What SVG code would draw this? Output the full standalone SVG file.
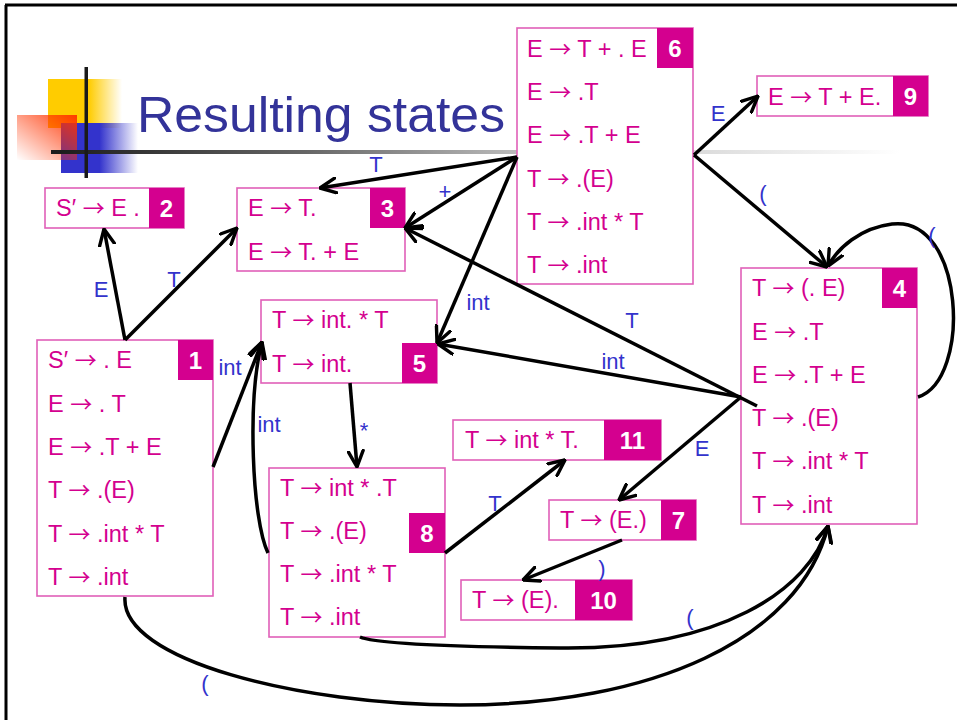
<svg xmlns="http://www.w3.org/2000/svg" width="957" height="720" viewBox="0 0 957 720">
<defs>
<linearGradient id="gY" x1="0" y1="0" x2="1" y2="0"><stop offset="0" stop-color="#FFCC00"/><stop offset="0.55" stop-color="#FFCC00"/><stop offset="1" stop-color="#FFCC00" stop-opacity="0"/></linearGradient>
<linearGradient id="gB" x1="0" y1="0" x2="1" y2="0"><stop offset="0" stop-color="#3333CC"/><stop offset="0.5" stop-color="#3333CC"/><stop offset="1" stop-color="#3333CC" stop-opacity="0"/></linearGradient>
<linearGradient id="gR" x1="1" y1="0" x2="0" y2="1"><stop offset="0" stop-color="#FF3300" stop-opacity="0.95"/><stop offset="1" stop-color="#FF3300" stop-opacity="0"/></linearGradient>
<linearGradient id="gL" gradientUnits="userSpaceOnUse" x1="51" y1="0" x2="900" y2="0"><stop offset="0" stop-color="#1a1a1a"/><stop offset="0.3" stop-color="#666"/><stop offset="0.55" stop-color="#bbb"/><stop offset="1" stop-color="#fff"/></linearGradient>
<marker id="ah" viewBox="0 0 18 18" refX="17" refY="9" markerWidth="18" markerHeight="18" markerUnits="userSpaceOnUse" orient="auto"><path d="M1,1.5 L17,9 L1,16.5" fill="none" stroke="#000" stroke-width="3.4" stroke-linecap="round" stroke-linejoin="round"/></marker>
</defs>
<style>
.box{fill:#fff;stroke:#e060b8;stroke-width:1.6}
.badge{fill:#d4008f}
.num{fill:#fff;font-family:"Liberation Sans",Arial,sans-serif;font-weight:bold;font-size:24px;text-anchor:middle}
.it{fill:#d4008f;font-family:"Liberation Sans",Arial,sans-serif;font-size:23.5px}
.ar{font-family:"Noto Sans CJK JP","Noto Sans CJK SC",sans-serif;font-size:22px}
.lbl{fill:#3333cc;font-family:"Liberation Sans",Arial,sans-serif;font-size:22px;text-anchor:middle}
.edge{fill:none;stroke:#000;stroke-width:3.5;marker-end:url(#ah)}
</style>
<rect width="957" height="720" fill="#fff"/>
<path d="M5,5 H957 M6,5 V720" stroke="#000" stroke-width="3" fill="none"/>
<g id="title">
<rect x="48" y="79" width="74" height="49" fill="url(#gY)"/>
<rect x="61" y="123" width="77" height="50" fill="url(#gB)"/>
<rect x="17" y="115" width="60" height="45" fill="url(#gR)"/>
<rect x="51" y="150" width="849" height="4" fill="url(#gL)"/>
<rect x="84.5" y="67" width="3.5" height="111" fill="#1a1a1a"/>
<text x="137" y="132" font-family="Liberation Sans,Arial,sans-serif" font-size="50" fill="#333399" textLength="368" lengthAdjust="spacingAndGlyphs">Resulting states</text>
</g>
<g id="state2">
<rect class="box" x="45" y="188" width="139" height="40"/><rect class="badge" x="149" y="188" width="35" height="40"/>
<text class="num" x="166.5" y="217">2</text><text class="it" x="56" y="216">S′ <tspan class="ar">→</tspan> E .</text>
</g>
<g id="state3">
<rect class="box" x="237" y="188" width="168" height="83"/><rect class="badge" x="370" y="188" width="35" height="40"/>
<text class="num" x="387.5" y="217">3</text>
<text class="it" x="248" y="216">E <tspan class="ar">→</tspan> T.</text><text class="it" x="248" y="260">E <tspan class="ar">→</tspan> T. + E</text>
</g>
<g id="state1">
<rect class="box" x="37" y="340" width="176" height="256"/><rect class="badge" x="178" y="340" width="35" height="40"/>
<text class="num" x="195.5" y="369">1</text>
<text class="it" x="48" y="368">S′ <tspan class="ar">→</tspan> . E</text>
<text class="it" x="48" y="412">E <tspan class="ar">→</tspan> . T</text>
<text class="it" x="48" y="455">E <tspan class="ar">→</tspan> .T + E</text>
<text class="it" x="48" y="498">T <tspan class="ar">→</tspan> .(E)</text>
<text class="it" x="48" y="542">T <tspan class="ar">→</tspan> .int * T</text>
<text class="it" x="48" y="585">T <tspan class="ar">→</tspan> .int</text>
</g>
<g id="state5">
<rect class="box" x="261" y="300" width="176" height="83"/><rect class="badge" x="402" y="343" width="35" height="40"/>
<text class="num" x="419.5" y="372">5</text>
<text class="it" x="272" y="328">T <tspan class="ar">→</tspan> int. * T</text><text class="it" x="272" y="372">T <tspan class="ar">→</tspan> int.</text>
</g>
<g id="state8">
<rect class="box" x="269" y="468" width="176" height="169"/><rect class="badge" x="409" y="513" width="36" height="40"/>
<text class="num" x="427" y="542">8</text>
<text class="it" x="280" y="496">T <tspan class="ar">→</tspan> int * .T</text>
<text class="it" x="280" y="539">T <tspan class="ar">→</tspan> .(E)</text>
<text class="it" x="280" y="582">T <tspan class="ar">→</tspan> .int * T</text>
<text class="it" x="280" y="625">T <tspan class="ar">→</tspan> .int</text>
</g>
<g id="state6">
<rect class="box" x="517" y="28" width="176" height="256"/><rect class="badge" x="657" y="28" width="36" height="40"/>
<text class="num" x="675" y="57">6</text>
<text class="it" x="527" y="57">E <tspan class="ar">→</tspan> T + . E</text>
<text class="it" x="527" y="100">E <tspan class="ar">→</tspan> .T</text>
<text class="it" x="527" y="143">E <tspan class="ar">→</tspan> .T + E</text>
<text class="it" x="527" y="187">T <tspan class="ar">→</tspan> .(E)</text>
<text class="it" x="527" y="230">T <tspan class="ar">→</tspan> .int * T</text>
<text class="it" x="527" y="273">T <tspan class="ar">→</tspan> .int</text>
</g>
<g id="state9">
<rect class="box" x="757" y="76" width="171" height="40"/><rect class="badge" x="893" y="76" width="35" height="40"/>
<text class="num" x="910.5" y="105">9</text><text class="it" x="768" y="105">E <tspan class="ar">→</tspan> T + E.</text>
</g>
<g id="state4">
<rect class="box" x="741" y="268" width="176" height="256"/><rect class="badge" x="882" y="268" width="35" height="40"/>
<text class="num" x="899.5" y="297">4</text>
<text class="it" x="752" y="296">T <tspan class="ar">→</tspan> (. E)</text>
<text class="it" x="752" y="340">E <tspan class="ar">→</tspan> .T</text>
<text class="it" x="752" y="383">E <tspan class="ar">→</tspan> .T + E</text>
<text class="it" x="752" y="426">T <tspan class="ar">→</tspan> .(E)</text>
<text class="it" x="752" y="469">T <tspan class="ar">→</tspan> .int * T</text>
<text class="it" x="752" y="513">T <tspan class="ar">→</tspan> .int</text>
</g>
<g id="state11">
<rect class="box" x="453" y="420" width="208" height="40"/><rect class="badge" x="604" y="420" width="57" height="40"/>
<text class="num" x="632.5" y="449">11</text><text class="it" x="465" y="448">T <tspan class="ar">→</tspan> int * T.</text>
</g>
<g id="state7">
<rect class="box" x="549" y="500" width="147" height="40"/><rect class="badge" x="661" y="500" width="35" height="40"/>
<text class="num" x="678.5" y="529">7</text><text class="it" x="560" y="528">T <tspan class="ar">→</tspan> (E.)</text>
</g>
<g id="state10">
<rect class="box" x="461" y="580" width="171" height="40"/><rect class="badge" x="575" y="580" width="57" height="40"/>
<text class="num" x="603.5" y="609">10</text><text class="it" x="472" y="608">T <tspan class="ar">→</tspan> (E).</text>
</g>
<g id="connectors">
<path class="edge" d="M125,340 L104,229"/>
<path class="edge" d="M125,340 L237,228"/>
<path class="edge" d="M213,467 L262,342"/>
<path class="edge" d="M268,553 C252,520 247,400 262,342"/>
<path class="edge" d="M350,383 L357,467"/>
<path class="edge" d="M517,157 L320,188"/>
<path class="edge" d="M517,157 L405,228"/>
<path class="edge" d="M517,157 L437,343"/>
<path class="edge" d="M694,155 L758,96"/>
<path class="edge" d="M694,155 L827,267"/>
<path class="edge" d="M918,397 C972,380 965,215 892,224 C860,228 838,248 828,266"/>
<path class="edge" d="M757,406 L405,228"/>
<path class="edge" d="M741,397 L438,344"/>
<path class="edge" d="M741,397 L619,500"/>
<path class="edge" d="M622,540 L523,580"/>
<path class="edge" d="M445,553 L565,460"/>
<path class="edge" d="M360,637 Q380,646 560,648 C720,650 810,590 828,526"/>
<path class="edge" d="M125,597 C120,660 300,705 460,705 C650,705 800,640 828,526"/>
</g>
<g id="labels">
<text class="lbl" x="101" y="297">E</text>
<text class="lbl" x="174" y="287">T</text>
<text class="lbl" x="230" y="375">int</text>
<text class="lbl" x="269" y="432">int</text>
<text class="lbl" x="364" y="438">*</text>
<text class="lbl" x="376" y="172">T</text>
<text class="lbl" x="445" y="199" font-size="16">+</text>
<text class="lbl" x="478" y="310">int</text>
<text class="lbl" x="718" y="121">E</text>
<text class="lbl" x="763" y="201">(</text>
<text class="lbl" x="932" y="243">(</text>
<text class="lbl" x="632" y="328">T</text>
<text class="lbl" x="613" y="369">int</text>
<text class="lbl" x="702" y="456">E</text>
<text class="lbl" x="602" y="576">)</text>
<text class="lbl" x="495" y="511">T</text>
<text class="lbl" x="690" y="625">(</text>
<text class="lbl" x="205" y="691">(</text>
</g>
</svg>
